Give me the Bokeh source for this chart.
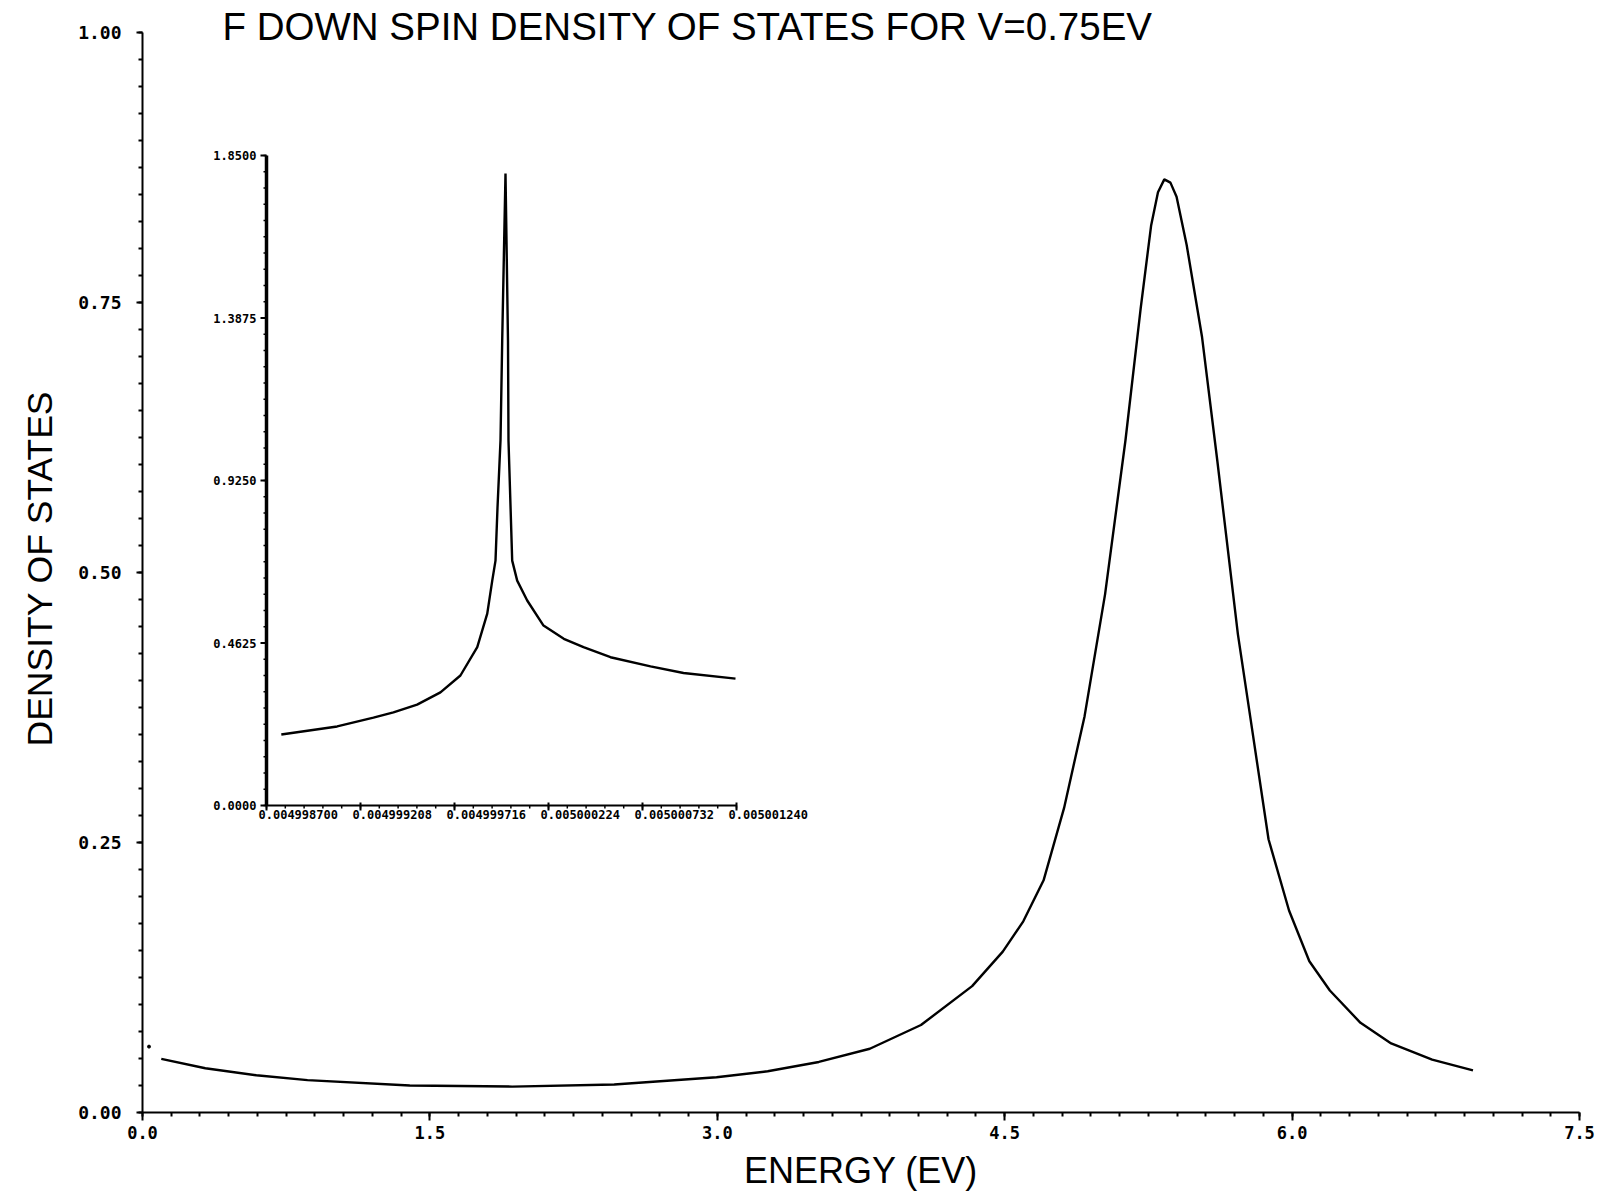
from bokeh.plotting import figure
from bokeh.models import Range1d, FixedTicker, Label, Title
from bokeh.core.properties import value
from bokeh.embed import file_html
from bokeh.resources import INLINE

# ---------------- data ----------------
energy = [0.098, 0.328, 0.594, 0.861, 1.395, 1.929, 2.462, 2.996, 3.263, 3.530,
          3.796, 4.063, 4.330, 4.490, 4.597, 4.703, 4.810, 4.917, 5.024, 5.130,
          5.210, 5.264, 5.300, 5.333, 5.365, 5.397, 5.450, 5.530, 5.610, 5.717,
          5.797, 5.877, 5.984, 6.090, 6.197, 6.357, 6.517, 6.731, 6.944]
dos = [0.0496, 0.041, 0.0345, 0.030, 0.025, 0.024, 0.0259, 0.0326, 0.0382, 0.0468,
       0.059, 0.081, 0.117, 0.149, 0.177, 0.215, 0.282, 0.367, 0.480, 0.622,
       0.745, 0.821, 0.852, 0.864, 0.861, 0.848, 0.803, 0.718, 0.603, 0.443,
       0.348, 0.253, 0.187, 0.140, 0.113, 0.083, 0.064, 0.049, 0.039]
first_energy = [0.034]
first_dos = [0.061]

inset_x = [0.00499878, 0.004999082, 0.004999278, 0.004999386, 0.004999514,
           0.004999640, 0.004999748, 0.004999839, 0.004999893, 0.004999920,
           0.0049999376, 0.0049999484, 0.0049999646, 0.0049999738, 0.0049999916,
           0.0050000051, 0.0050000078, 0.0050000278, 0.0050000548, 0.0050001089,
           0.0050001970, 0.0050003067, 0.0050004131, 0.005000559, 0.0050007753,
           0.0050009536, 0.0050012346]
inset_y = [0.202, 0.225, 0.250, 0.265, 0.287, 0.322, 0.370, 0.451, 0.546, 0.640,
           0.697, 0.848, 1.039, 1.323, 1.799, 1.323, 1.039, 0.697, 0.640, 0.5835,
           0.512, 0.4745, 0.4505, 0.422, 0.396, 0.377, 0.361]

x_ticks = [0.0, 1.5, 3.0, 4.5, 6.0, 7.5]
x_tick_labels = ["0.0", "1.5", "3.0", "4.5", "6.0", "7.5"]
y_ticks = [0.0, 0.25, 0.5, 0.75, 1.0]
y_tick_labels = ["0.00", "0.25", "0.50", "0.75", "1.00"]

inset_x_ticks = [0.0049987, 0.004999208, 0.004999716, 0.005000224, 0.005000732, 0.00500124]
inset_x_tick_labels = ["0.004998700", "0.004999208", "0.004999716", "0.005000224", "0.005000732", "0.005001240"]
inset_y_ticks = [0.0, 0.4625, 0.925, 1.3875, 1.85]
inset_y_tick_labels = ["0.0000", "0.4625", "0.9250", "1.3875", "1.8500"]

title_text = "F DOWN SPIN DENSITY OF STATES FOR V=0.75EV"
x_label = "ENERGY (EV)"
y_label = "DENSITY OF STATES"

# ---------------- layout constants (pixels, page coordinates) ----------------
FL, FW = 142, 1437          # main frame left edge and width
Y1, Y0 = 32, 1112           # pixel rows of y=1.0 and y=0.0
IL, IR, IT, IB = 266, 736, 155, 805   # inset frame

FH = Y0
p = figure(frame_width=FW, frame_height=FH,
           x_range=Range1d(0, 7.5), y_range=Range1d(0, Y0 / (Y0 - Y1)),
           output_backend="svg", toolbar_location=None,
           min_border_left=FL, min_border_top=0,
           min_border_right=16, min_border_bottom=20)
p.outline_line_color = None
p.grid.visible = False
p.background_fill_color = "white"
p.border_fill_color = "white"

x_minor = [i * 0.15 for i in range(51)]
y_minor = [i * 0.025 for i in range(41)]
p.xaxis.ticker = FixedTicker(ticks=x_ticks, minor_ticks=x_minor)
p.yaxis.ticker = FixedTicker(ticks=y_ticks, minor_ticks=y_minor)
p.xaxis.major_label_overrides = {t: l for t, l in zip(x_ticks, x_tick_labels)}
p.yaxis.major_label_overrides = {t: l for t, l in zip(y_ticks, y_tick_labels)}
p.yaxis.bounds = (0, 1)

for ax in (p.xaxis, p.yaxis):
    ax.axis_line_width = 2
    ax.axis_line_color = "black"
    ax.major_tick_line_width = 2
    ax.minor_tick_line_width = 2
    ax.major_tick_in = 0
    ax.minor_tick_in = 0
    ax.major_label_text_font = "DejaVu Sans Mono"
    ax.major_label_text_font_style = "bold"
    ax.major_label_text_color = "black"
    ax.axis_label_text_font = "Liberation Sans"
    ax.axis_label_text_font_style = "normal"
    ax.axis_label_text_color = "black"
p.xaxis.major_label_text_font_size = "17px"
p.yaxis.major_label_text_font_size = "18px"
p.xaxis.major_tick_out = 8
p.xaxis.minor_tick_out = 4
p.xaxis.major_label_standoff = 5
p.yaxis.major_tick_out = 6
p.yaxis.minor_tick_out = 4
p.yaxis.major_label_standoff = 15

p.xaxis.axis_label = x_label
p.xaxis.axis_label_text_font_size = "36px"
p.xaxis.axis_label_standoff = 8

# y label as a side title so that it can be shifted along the axis
p.add_layout(Title(text=y_label, align="left", offset=366, standoff=32,
                   text_font="Liberation Sans", text_font_size="35.5px",
                   text_font_style="normal", text_color="black"), "left")

# main curve
p.line(energy, dos, line_color="black", line_width=2.4)
p.scatter(first_energy, first_dos, size=3, color="black")

# ---------------- inset via extra ranges ----------------
dxp = 2.54e-6 / (IR - IL)
dyp = 1.85 / (IB - IT)
ix0 = inset_x_ticks[0] - (IL - FL) * dxp
iy0 = 0.0 - (Y0 - IB) * dyp
p.extra_x_ranges = {"ix": Range1d(ix0, ix0 + FW * dxp)}
p.extra_y_ranges = {"iy": Range1d(iy0, iy0 + FH * dyp)}
kw = dict(x_range_name="ix", y_range_name="iy")

xa, xb = inset_x_ticks[0], inset_x_ticks[-1]
ya, yb = inset_y_ticks[0], inset_y_ticks[-1]
p.segment([xa], [ya], [xa], [yb], line_color="black", line_width=3.5, **kw)
p.segment([xa], [ya], [xb], [ya], line_color="black", line_width=2, **kw)

ymin = [ya + (yb - ya) * i / 40 for i in range(41)]
p.segment([xa] * len(ymin), ymin, [xa - 3 * dxp] * len(ymin), ymin, line_color="black", line_width=1.5, **kw)
p.segment([xa] * len(inset_y_ticks), inset_y_ticks, [xa - 6 * dxp] * len(inset_y_ticks), inset_y_ticks,
          line_color="black", line_width=2, **kw)
xmin = [xa + (xb - xa) * i / 25 for i in range(26)]
p.segment(xmin, [ya] * len(xmin), xmin, [ya - 3 * dyp] * len(xmin), line_color="black", line_width=1.5, **kw)
p.segment(inset_x_ticks, [ya + 3 * dyp] * 6, inset_x_ticks, [ya - 5 * dyp] * 6, line_color="black", line_width=2, **kw)

p.text(x=[xa] * 5, y=inset_y_ticks, text=inset_y_tick_labels, x_offset=-10,
       text_align="right", text_baseline="middle",
       text_font=value("DejaVu Sans Mono"), text_font_style="bold",
       text_font_size=value("12px"), text_color="black", **kw)
p.text(x=inset_x_ticks, y=[ya] * 6, text=inset_x_tick_labels, x_offset=-8, y_offset=4,
       text_align="left", text_baseline="top",
       text_font=value("DejaVu Sans Mono"), text_font_style="bold",
       text_font_size=value("12px"), text_color="black", **kw)

p.line(inset_x, inset_y, line_color="black", line_width=2.4, **kw)

# ---------------- title (inside the frame, above y=1) ----------------
p.add_layout(Label(x=(222 - FL) / FW * 7.5, y=(Y0 - 26) / (Y0 - Y1), text=title_text,
                   text_font="Liberation Sans", text_font_size="38.5px",
                   text_color="black", text_baseline="alphabetic"))

open("out.html", "w").write(file_html(p, INLINE))
